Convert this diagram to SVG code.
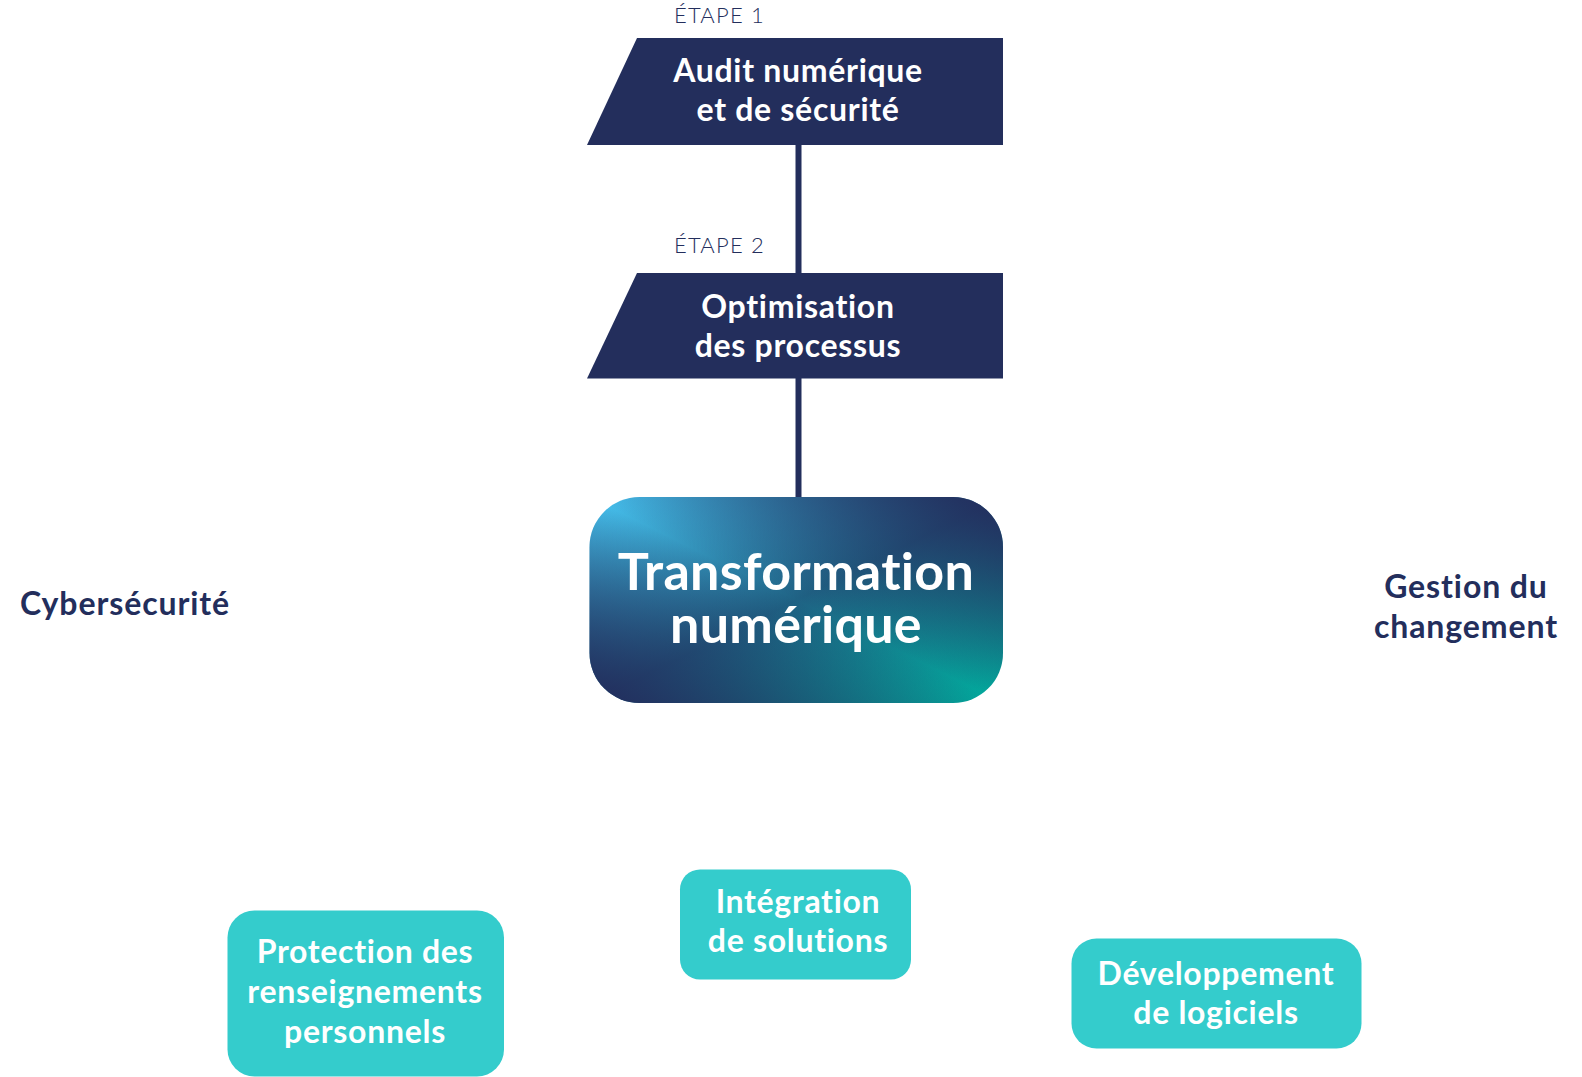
<svg xmlns="http://www.w3.org/2000/svg" width="1582" height="1077" viewBox="0 0 1582 1077">
<style>
  text { font-family: Lato, "Liberation Sans", sans-serif; font-variant-ligatures: none; font-feature-settings: "liga" 0; }
  .step { font-size: 22px; font-weight: 300; fill: #232E5C; letter-spacing: 1.2px; }
  .para { fill: #232E5C; }
  .wt { fill: #FFFFFF; font-weight: 700; font-size: 32px; letter-spacing: 0.7px; text-anchor: middle; }
  .dk { fill: #232E5C; font-weight: 700; font-size: 32px; letter-spacing: 0.9px; text-anchor: middle; }
  .big { fill: #FFFFFF; font-weight: 700; font-size: 52px; letter-spacing: 0.3px; text-anchor: middle; }
  .teal { fill: #34CCCC; }
  .conn { stroke: #232E5C; stroke-width: 6; fill: none; }
</style>
<defs>
  <linearGradient id="gBase" x1="0" y1="0" x2="1" y2="1">
    <stop offset="0" stop-color="#48C4F2"/>
    <stop offset="0.5" stop-color="#1F6284"/>
    <stop offset="1" stop-color="#00AE9E"/>
  </linearGradient>
  <linearGradient id="gNavy" x1="1" y1="0" x2="0" y2="1">
    <stop offset="0" stop-color="#232C5C" stop-opacity="1"/>
    <stop offset="0.5" stop-color="#232C5C" stop-opacity="0"/>
    <stop offset="1" stop-color="#232C5C" stop-opacity="1"/>
  </linearGradient>
</defs>
<rect width="1582" height="1077" fill="#FFFFFF"/>

<g id="connectors">
  <line class="conn" x1="798.5" y1="144" x2="798.5" y2="274"/>
  <line class="conn" x1="798.5" y1="377" x2="798.5" y2="498"/>
</g>

<g id="step1">
  <text class="step" x="674" y="22.5">ÉTAPE 1</text>
  <polygon class="para" points="637,38 1003,38 1003,145 587,145"/>
  <text class="wt" x="798" y="82">Audit numérique</text>
  <text class="wt" x="798" y="121">et de sécurité</text>
</g>

<g id="step2">
  <text class="step" x="674" y="252.5">ÉTAPE 2</text>
  <polygon class="para" points="637,273 1003,273 1003,378.5 587,378.5"/>
  <text class="wt" x="798" y="318">Optimisation</text>
  <text class="wt" x="798" y="357">des processus</text>
</g>

<g id="transformation">
  <rect x="589.5" y="497" width="413.5" height="206" rx="50" ry="50" fill="url(#gBase)"/>
  <rect x="589.5" y="497" width="413.5" height="206" rx="50" ry="50" fill="url(#gNavy)"/>
  <text class="big" x="796" y="590">Transformation</text>
  <text class="big" x="796" y="643">numérique</text>
</g>

<g id="cybersecurite">
  <text class="dk" x="125" y="614.5">Cybersécurité</text>
</g>

<g id="gestion">
  <text class="dk" x="1466" y="598">Gestion du</text>
  <text class="dk" x="1466" y="638">changement</text>
</g>

<g id="protection">
  <rect class="teal" x="227.5" y="910.5" width="276.5" height="166" rx="27" ry="27"/>
  <text class="wt" x="365" y="962.5">Protection des</text>
  <text class="wt" x="365" y="1002.5">renseignements</text>
  <text class="wt" x="365" y="1042.5">personnels</text>
</g>

<g id="integration">
  <rect class="teal" x="680" y="869.5" width="231" height="110" rx="20" ry="20"/>
  <text class="wt" x="798" y="913">Intégration</text>
  <text class="wt" x="798" y="952">de solutions</text>
</g>

<g id="developpement">
  <rect class="teal" x="1071.5" y="938.5" width="290" height="110" rx="25" ry="25"/>
  <text class="wt" x="1216" y="985">Développement</text>
  <text class="wt" x="1216" y="1024">de logiciels</text>
</g>
</svg>
